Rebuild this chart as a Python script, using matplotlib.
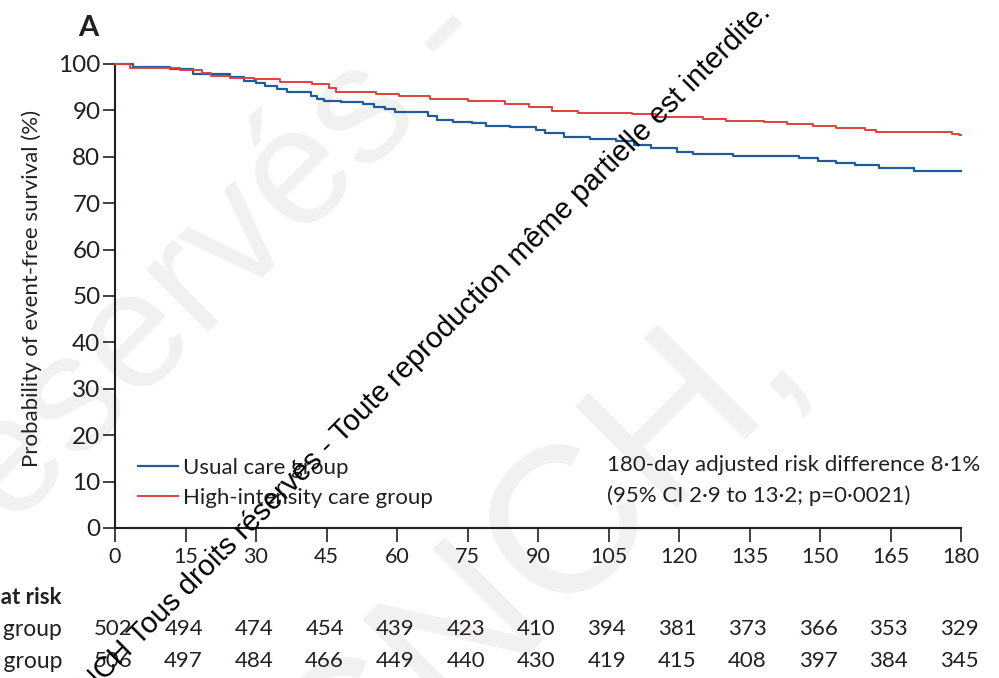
import matplotlib
matplotlib.use("Agg")
import matplotlib.pyplot as plt
import matplotlib.transforms as mtransforms
from matplotlib import font_manager

# Kaplan-Meier event-free survival (%), step changes: (day, value after step)
usual_days = [0, 3.8, 11.7, 16.6, 24.5, 27.5, 30, 32, 34.4, 36.6, 41.8, 43, 44.5, 48,
              52.8, 55, 57.5, 59.5, 66.6, 68.5, 72, 76, 79, 84, 89.5, 91.5, 95.5, 101,
              106.5, 110.5, 114, 119.5, 123, 131.5, 145.5, 149.5, 153.5, 157.5, 162.5,
              170, 180]
usual_surv = [100, 99.4, 98.9, 97.8, 97.1, 96.4, 95.8, 95.2, 94.6, 94.0, 93.2, 92.4, 92.0,
              91.8, 91.4, 90.8, 90.2, 89.6, 88.8, 87.9, 87.6, 87.2, 86.6, 86.4, 85.8, 85.1,
              84.3, 83.8, 83.3, 82.5, 81.8, 81.1, 80.6, 80.2, 79.7, 79.2, 78.7, 78.2, 77.5,
              76.9, 76.9]

high_days = [0, 3.2, 13.8, 18.5, 20.5, 24.5, 29.5, 35, 42, 45.5, 47, 55.5, 60.5, 67, 75,
             83, 88, 93, 98.5, 110, 115, 125, 130, 138, 143, 148.5, 153.5, 159.5, 162,
             178, 179.5, 180]
high_surv = [100, 99.2, 98.7, 98.0, 97.5, 97.0, 96.7, 96.2, 95.6, 94.8, 93.9, 93.5, 93.1,
             92.5, 92.0, 91.4, 90.7, 89.9, 89.5, 89.2, 88.5, 88.1, 87.8, 87.4, 87.1, 86.7,
             86.3, 85.8, 85.3, 84.9, 84.6, 84.6]

xticks = [0, 15, 30, 45, 60, 75, 90, 105, 120, 135, 150, 165, 180]
yticks = [0, 10, 20, 30, 40, 50, 60, 70, 80, 90, 100]
usual_at_risk = [502, 494, 474, 454, 439, 423, 410, 394, 381, 373, 366, 353, 329]
high_at_risk = [506, 497, 484, 466, 449, 440, 430, 419, 415, 408, 397, 384, 345]

group_labels = ["Usual care group", "High-intensity care group"]
note_lines = ["180-day adjusted risk difference 8\u00b71%",
              "(95% CI 2\u00b79 to 13\u00b72; p=0\u00b70021)"]

BLUE = "#1f5c99"
RED = "#e0413c"
INK = "#231f20"


def pick(*names):
    for n in names:
        try:
            font_manager.findfont(font_manager.FontProperties(family=n),
                                  fallback_to_default=False)
            return n
        except Exception:
            continue
    return "DejaVu Sans"


MAIN = pick("Lato", "Open Sans")
MARK = pick("Liberation Sans", "DejaVu Sans")

W, H = 999, 678
fig = plt.figure(figsize=(W / 100, H / 100), dpi=100)
fig.patch.set_facecolor("white")


def fx(px):
    return px / W


def fy(py):
    return 1 - py / H


# faint large background lettering, kept beneath everything else
fig.text(fx(495), fy(45), "droits réservés -", rotation=45, rotation_mode="anchor",
         ha="right", va="baseline", fontsize=120, color="#f1f1f1",
         family=MARK, zorder=-5)
fig.text(fx(812), fy(372), "- CNCH,", rotation=45, rotation_mode="anchor",
         ha="right", va="baseline", fontsize=150, color="#f1f1f1",
         family=MARK, zorder=-5)

L, R, T, B = 115, 961, 64, 528
ax = fig.add_axes([fx(L), fy(B), fx(R) - fx(L), fy(T) - fy(B)])
ax.patch.set_alpha(0)

ax.step(usual_days, usual_surv, where="post", color=BLUE, lw=1.6,
        label=group_labels[0], clip_on=False, zorder=3)
ax.step(high_days, high_surv, where="post", color=RED, lw=1.4,
        label=group_labels[1], clip_on=False, zorder=3)

ax.set_xlim(0, 180)
ax.set_ylim(0, 100)
ax.set_xticks(xticks)
ax.set_yticks(yticks)
for s in ("top", "right"):
    ax.spines[s].set_visible(False)
for s in ("left", "bottom"):
    ax.spines[s].set_linewidth(1.5)
    ax.spines[s].set_color(INK)
ax.tick_params(axis="y", direction="out", length=8.5, width=1.2, color=INK,
               pad=2, labelsize=17.5, labelcolor=INK)
ax.tick_params(axis="x", direction="out", length=10, width=1.2, color=INK,
               pad=4, labelsize=15.5, labelcolor=INK)
for lab in ax.get_yticklabels() + ax.get_xticklabels():
    lab.set_family(MAIN)

ax.set_ylabel("Probability of event-free survival (%)", family=MAIN, fontsize=16,
              color=INK)
ax.yaxis.set_label_coords(fx(42), fy(288), transform=fig.transFigure)

leg = ax.legend(loc="upper left", bbox_to_anchor=(fx(138), fy(458)),
                bbox_transform=fig.transFigure, frameon=False, borderpad=0,
                borderaxespad=0, handlelength=1.8, handletextpad=0.22,
                labelspacing=0.46, prop={"family": MAIN, "size": 16})
for t in leg.get_texts():
    t.set_color(INK)

for i, line in enumerate(note_lines):
    fig.text(fx(607), fy(465 + 31 * i), line, ha="left", va="center",
             family=MAIN, fontsize=16, color=INK)

fig.text(fx(78), fy(28), "A", family=MAIN, fontsize=21, fontweight="bold",
         ha="left", va="center", color=INK)

# number-at-risk table
tr = mtransforms.blended_transform_factory(ax.transData, fig.transFigure)
fig.text(fx(62), fy(598), "Number at risk", ha="right", va="center",
         family=MAIN, fontsize=16, fontweight="bold", color=INK)
for row_y, lab, vals in ((629, group_labels[0], usual_at_risk),
                         (661, group_labels[1], high_at_risk)):
    fig.text(fx(62), fy(row_y), lab, ha="right", va="center", family=MAIN,
             fontsize=16.5, color=INK)
    for d, v in zip(xticks, vals):
        ax.text(d - 0.4, fy(row_y), str(v), transform=tr, ha="center", va="center",
                family=MAIN, fontsize=16, color=INK, clip_on=False)

# copyright overlay
fig.text(fx(772), fy(14), "© CNCH Tous droits réservés - Toute reproduction même "
         "partielle est interdite.", rotation=45, rotation_mode="anchor",
         ha="right", va="baseline", family=MARK, fontsize=21, color="black",
         zorder=10)

fig.savefig("out.png", dpi=100, facecolor="white")
